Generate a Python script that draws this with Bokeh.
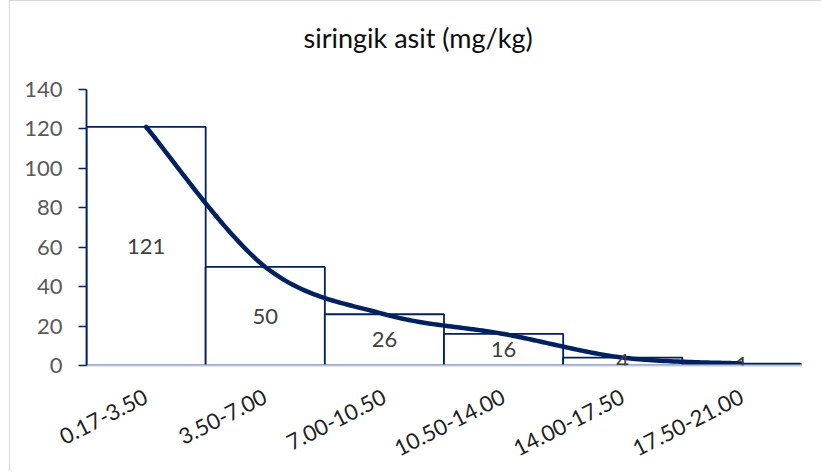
import numpy as np
from bokeh.plotting import figure
from bokeh.models import FactorRange, Range1d, FixedTicker, ColumnDataSource, LabelSet, Title
from bokeh.core.properties import value
from bokeh.embed import file_html
from bokeh.resources import INLINE

# ---- data ----
categories = ["0.17-3.50", "3.50-7.00", "7.00-10.50", "10.50-14.00", "14.00-17.50", "17.50-21.00"]
counts = [121, 50, 26, 16, 4, 1]
y_ticks = [0, 20, 40, 60, 80, 100, 120, 140]
title_text = "siringik asit (mg/kg)"

NAVY = "#002060"
FONT = "Lato"

p = figure(width=812, height=471,
           x_range=FactorRange(*categories, range_padding=0),
           y_range=Range1d(0, 140),
           output_backend="svg", toolbar_location=None,
           min_border_left=76, min_border_right=21, min_border_top=88, min_border_bottom=107)
p.title = None
p.styles = {"margin-left": "9px", "border-left": "1px solid #d9d9d9", "border-top": "1px solid #d9d9d9"}
p.outline_line_color = None
p.background_fill_color = "white"
p.border_fill_color = "white"
p.grid.visible = False

# bars
src = ColumnDataSource(dict(cat=categories, val=counts,
                            half=[v / 2 for v in counts],
                            lbl=[str(v) for v in counts]))
p.vbar(x="cat", top="val", width=1.0, source=src, fill_color="white",
       line_color=NAVY, line_width=1.8)

# smoothed curve through the bar centres (Catmull-Rom / Bezier, like Excel smoothing)
xs = np.arange(len(categories)) + 0.5
ys = np.array(counts, dtype=float)
P = np.column_stack([xs, ys])
Pe = np.vstack([P[0], P, P[-1]])
cx, cy = [], []
t = np.linspace(0, 1, 40)
for i in range(1, len(Pe) - 2):
    p0, p1, p2, p3 = Pe[i - 1], Pe[i], Pe[i + 1], Pe[i + 2]
    b0 = p1
    b1 = p1 + (p2 - p0) / 6.0
    b2 = p2 - (p3 - p1) / 6.0
    b3 = p2
    seg = ((1 - t) ** 3)[:, None] * b0 + (3 * (1 - t) ** 2 * t)[:, None] * b1 \
        + (3 * (1 - t) * t ** 2)[:, None] * b2 + (t ** 3)[:, None] * b3
    cx.extend(seg[:, 0].tolist())
    cy.extend(seg[:, 1].tolist())
p.line(cx, cy, line_color=NAVY, line_width=4.5, line_cap="round", line_join="round")

# value labels at bar centres
labels = LabelSet(x="cat", y="half", text="lbl", source=src, text_align="center",
                  text_baseline="middle", text_font=value(FONT), text_font_size=value("22px"),
                  text_color=value("#404040"))
p.add_layout(labels)

# y axis
yax = p.yaxis[0]
yax.ticker = FixedTicker(ticks=y_ticks)
yax.axis_line_color = NAVY
yax.axis_line_width = 1.8
yax.major_tick_line_color = NAVY
yax.major_tick_line_width = 1.6
yax.major_tick_out = 8
yax.major_tick_in = 0
yax.minor_tick_line_color = None
yax.major_label_text_font = FONT
yax.major_label_text_font_size = "22px"
yax.major_label_text_color = "#595959"
yax.major_label_standoff = 16

# x axis
xax = p.xaxis[0]
xax.axis_line_color = "#bcc6da"
xax.axis_line_width = 2
xax.major_tick_line_color = None
xax.minor_tick_line_color = None
xax.major_label_orientation = 0.47
xax.major_label_text_font = FONT
xax.major_label_text_font_size = "22px"
xax.major_label_text_color = "#1f1f1f"
xax.major_label_standoff = 24

# spacer between the frame and the title, then the title
p.add_layout(Title(text=" ", text_font_size="10px", standoff=18), "above")
p.add_layout(Title(text=title_text, align="left", offset=217, text_font=FONT,
                   text_font_size="27px", text_font_style="normal",
                   text_color="#0d0d0d", standoff=10), "above")

open("out.html", "w").write(file_html(p, INLINE))
